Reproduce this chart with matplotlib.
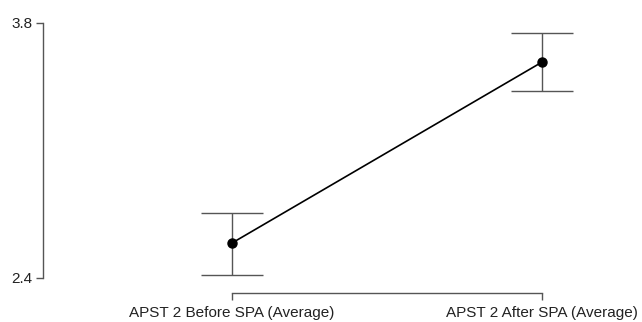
import matplotlib
matplotlib.use("Agg")
import matplotlib.pyplot as plt

plt.rcParams['font.family'] = ['Liberation Sans', 'DejaVu Sans']

categories = ["APST 2 Before SPA (Average)", "APST 2 After SPA (Average)"]
means = [2.592, 3.585]
ci_low = [2.416, 3.424]
ci_high = [2.759, 3.746]
yticks = [2.4, 3.8]

fig = plt.figure(figsize=(6.42, 3.22), dpi=100)
ax = fig.add_axes([43 / 642, 29 / 322, 577 / 642, 283 / 322])

xs = list(range(len(categories)))
yerr = [[m - lo for m, lo in zip(means, ci_low)],
        [hi - m for m, hi in zip(means, ci_high)]]

ax.errorbar(xs, means, yerr=yerr, fmt="none", ecolor="#555555",
            elinewidth=1.0, capsize=22.3, capthick=1.0, zorder=2)
ax.plot(xs, means, color="black", lw=1.2, marker="o", ms=6.5, zorder=3)

ax.set_xlim(-0.6097, 1.2516)
ax.set_ylim(2.3176, 3.871)

ax.set_xticks(xs)
ax.set_xticklabels(categories)
ax.set_yticks(yticks)
ax.set_yticklabels([f"{t:.1f}" for t in yticks])

for side in ["top", "right"]:
    ax.spines[side].set_visible(False)
ax.spines["left"].set_bounds(yticks[0], yticks[-1])
ax.spines["bottom"].set_bounds(xs[0], xs[-1])
for side in ["left", "bottom"]:
    ax.spines[side].set_color("#555555")
    ax.spines[side].set_linewidth(1.0)

ax.tick_params(axis="both", direction="out", length=4.8, width=1.0,
               color="#555555", labelsize=11, labelcolor="#222222", pad=3)
ax.tick_params(axis="x", pad=4.5)

fig.savefig("out.png", dpi=100)
